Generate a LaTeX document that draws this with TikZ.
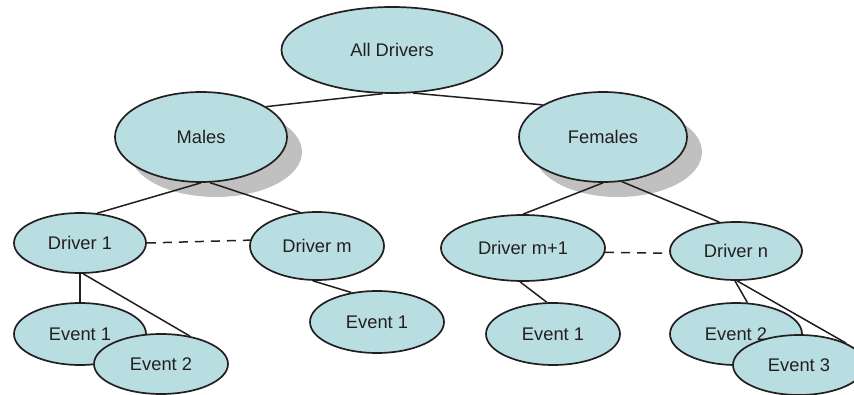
\documentclass[tikz,border=0pt]{standalone}
\usepackage{fontspec}
\setmainfont{Liberation Sans}
\usetikzlibrary{shapes.geometric}
\definecolor{ellfill}{RGB}{184,222,226}
\definecolor{ink}{RGB}{35,31,32}
\definecolor{shade}{RGB}{192,192,192}
\tikzset{
  ell/.style={ellipse, draw=ink, fill=ellfill, line width=1.7pt, inner sep=0pt,
    text=ink, font=\fontsize{18.3}{21}\selectfont},
  link/.style={draw=ink, line width=1.5pt},
  dlink/.style={draw=ink, line width=1.5pt, dash pattern=on 9pt off 7pt},
  shadow/.style={ellipse, fill=shade, inner sep=0pt}
}
\begin{document}
\begin{tikzpicture}[x=1pt,y=-1pt]
\useasboundingbox (0,0) rectangle (854,395);
\clip (0,0) rectangle (854,395);
% shadows
\node[shadow, minimum width=172pt, minimum height=90pt] (mshadow) at (216,152) {};
\node[shadow, minimum width=168pt, minimum height=90pt] (fshadow) at (618,152) {};
% nodes
\node[ell, minimum width=221pt, minimum height=86pt] (all) at (392,50) {All Drivers};
\node[ell, minimum width=172pt, minimum height=90pt] (males) at (201,137) {Males};
\node[ell, minimum width=168pt, minimum height=90pt] (fem) at (603,137) {Females};
\node[ell, minimum width=132pt, minimum height=60pt] (d1) at (80,243) {Driver 1};
\node[ell, minimum width=134pt, minimum height=68pt] (dm) at (317,246) {Driver m};
\node[ell, minimum width=164pt, minimum height=66pt] (dm1) at (523,248) {Driver m+1};
\node[ell, minimum width=132pt, minimum height=58pt] (dn) at (736,251) {Driver n};
\node[ell, minimum width=132pt, minimum height=62pt] (e1a) at (80,334) {Event 1};
\node[ell, minimum width=134pt, minimum height=60pt] (e2a) at (161,364) {Event 2};
\node[ell, minimum width=134pt, minimum height=62pt] (e1b) at (377,322) {Event 1};
\node[ell, minimum width=134pt, minimum height=62pt] (e1c) at (553,334) {Event 1};
\node[ell, minimum width=132pt, minimum height=62pt] (e2b) at (736,334) {Event 2};
\node[ell, minimum width=132pt, minimum height=60pt] (e3b) at (799,365) {Event 3};
% connectors
\draw[link] (all.258) -- (males.25);
\draw[link] (all.296) -- (fem.152);
\draw[link] (males.south) -- (d1.60);
\draw[link] (males.281) -- (dm.117);
\draw[dlink] (d1.east) -- (dm.175);
\draw[link] (d1.south) -- (e1a.north);
\draw[link] (d1.276) -- (e2a.44);
\draw[link] (dm.263) -- (e1b.131);
\draw[link] (fem.south) -- (dm1.north);
\draw[link] (fem.293) -- (dn.120);
\draw[dlink] (dm1.-3) -- (dn.182);
\draw[link] (dm1.265) -- (e1c.101);
\draw[link] (dn.268) -- (e2b.70);
\draw[link] (dn.272) -- (e3b.25);
\end{tikzpicture}
\end{document}
